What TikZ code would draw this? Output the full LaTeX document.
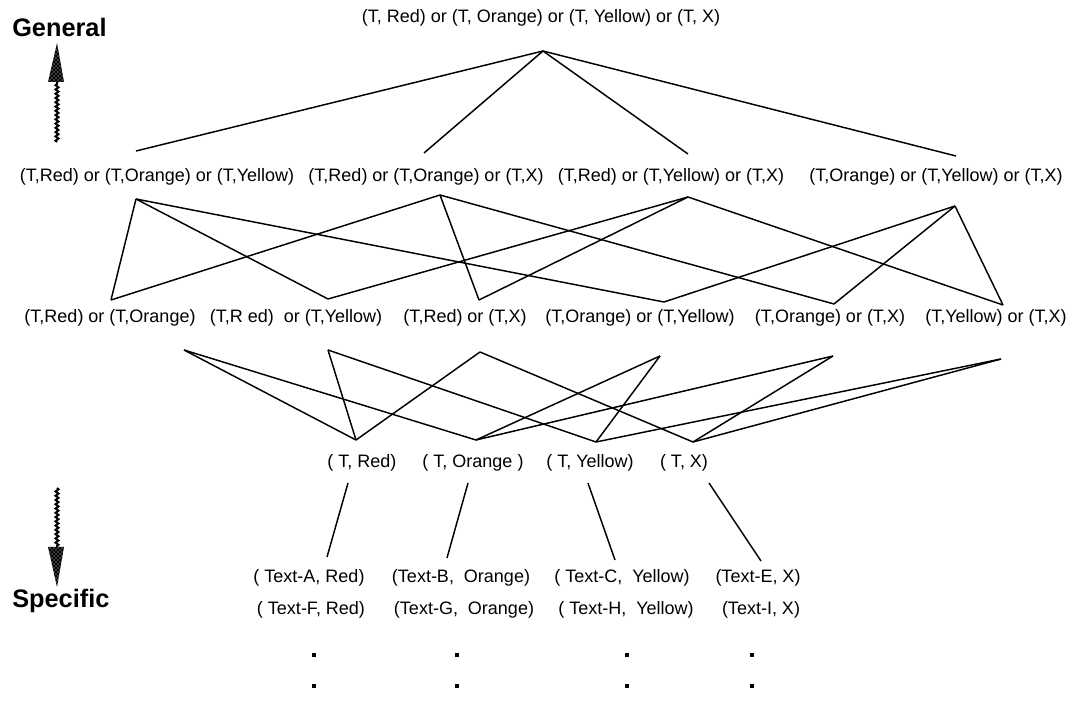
\documentclass[tikz,border=0pt]{standalone}
\usepackage{fontspec}
\setmainfont{Liberation Sans}
\usetikzlibrary{decorations.pathmorphing,patterns}

\begin{document}
\begin{tikzpicture}[x=0.75pt,y=-0.75pt,
  lbl/.style={inner sep=0pt, font=\fontsize{13.5}{15}\selectfont},
  big/.style={inner sep=0pt, anchor=west, font=\fontsize{19}{22}\selectfont\bfseries},
  link/.style={line width=1.1pt},
  shaft/.style={line width=1.5pt, decorate,
    decoration={snake, amplitude=1.1pt, segment length=3.2pt}},
  headfill/.style={fill=black},
  headdots/.style={pattern=crosshatch dots, pattern color=white},
  dot/.style={rectangle, fill=black, inner sep=0pt, minimum size=3.2pt}]

\useasboundingbox (0,0) rectangle (1076,702);

% ---- direction indicators ----
\node[big] (gen) at (12,27) {General};
\node[big] (spec) at (12,601) {Specific};

\coordinate (up-tail) at (57,142);
\coordinate (up-base) at (57,82);
\coordinate (up-tip) at (57,43);
\draw[shaft] (up-tail) -- (up-base);
\path[headfill] (48,82) -- (up-tip) -- (64,82) -- cycle;
\path[headdots] (48,82) -- (up-tip) -- (64,82) -- cycle;

\coordinate (dn-tail) at (57,488);
\coordinate (dn-base) at (57,547);
\coordinate (dn-tip) at (57,587);
\draw[shaft] (dn-tail) -- (dn-base);
\path[headfill] (48,547) -- (dn-tip) -- (64,547) -- cycle;
\path[headdots] (48,547) -- (dn-tip) -- (64,547) -- cycle;

% ---- level 4: the most general concept ----
\node[lbl] (top) at (541,18) {(T, Red) or (T, Orange) or (T, Yellow) or (T, X)};
\coordinate (top-d) at (543,51);

% ---- level 3 ----
\node[lbl] (A3) at (157,177) {(T,Red) or (T,Orange) or (T,Yellow)};
\node[lbl] (B3) at (426,177) {(T,Red) or (T,Orange) or (T,X)};
\node[lbl] (C3) at (671,177) {(T,Red) or (T,Yellow) or (T,X)};
\node[lbl] (D3) at (936,177) {(T,Orange) or (T,Yellow) or (T,X)};
\coordinate (A3-u) at (136,151); \coordinate (A3-d) at (136,199);
\coordinate (B3-u) at (424,153); \coordinate (B3-d) at (440,195);
\coordinate (C3-u) at (688,154); \coordinate (C3-d) at (688,197);
\coordinate (D3-u) at (956,156); \coordinate (D3-d) at (955,206);

% ---- level 2 ----
\node[lbl] (a2) at (110,318) {(T,Red) or (T,Orange)};
\node[lbl] (b2) at (296,318) {(T,R ed)\ \ or (T,Yellow)};
\node[lbl] (c2) at (465,318) {(T,Red) or (T,X)};
\node[lbl] (d2) at (640,318) {(T,Orange) or (T,Yellow)};
\node[lbl] (e2) at (830,318) {(T,Orange) or (T,X)};
\node[lbl] (f2) at (996,318) {(T,Yellow) or (T,X)};
\coordinate (a2-u) at (111,300);  \coordinate (a2-d) at (184,350);
\coordinate (b2-u) at (328,299);  \coordinate (b2-d) at (328,350);
\coordinate (c2-u) at (479,300);  \coordinate (c2-d) at (480,352);
\coordinate (d2-u) at (664,302);  \coordinate (d2-d) at (660,356);
\coordinate (e2-u) at (834,304);  \coordinate (e2-d) at (833,356);
\coordinate (f2-u) at (1003,305); \coordinate (f2-d) at (1001,359);

% ---- level 1 ----
\node[lbl] (R1) at (362,463) {( T, Red)};
\node[lbl] (O1) at (473,463) {( T, Orange )};
\node[lbl] (Y1) at (590,463) {( T, Yellow)};
\node[lbl] (X1) at (684,463) {( T, X)};
\coordinate (R1-u) at (356,440); \coordinate (R1-d) at (348,483);
\coordinate (O1-u) at (476,440); \coordinate (O1-d) at (468,483);
\coordinate (Y1-u) at (596,442); \coordinate (Y1-d) at (588,483);
\coordinate (X1-u) at (693,442); \coordinate (X1-d) at (709,483);

% ---- level 0: instances ----
\node[lbl] (iA) at (309,578) {( Text-A, Red)};
\node[lbl] (iB) at (461,578) {(Text-B,\ \ Orange)};
\node[lbl] (iC) at (622,578) {( Text-C,\ \ Yellow)};
\node[lbl] (iE) at (758,578) {(Text-E, X)};
\node[lbl] (iF) at (311,610) {( Text-F, Red)};
\node[lbl] (iG) at (464,610) {(Text-G,\ \ Orange)};
\node[lbl] (iH) at (626,610) {( Text-H,\ \ Yellow)};
\node[lbl] (iI) at (761,610) {(Text-I, X)};
\coordinate (iA-u) at (327,557);
\coordinate (iB-u) at (447,558);
\coordinate (iC-u) at (615,560);
\coordinate (iE-u) at (761,561);

\foreach \n/\x in {r/314, o/457, y/627, x/752} {
  \node[dot] (\n-dot1) at (\x,655) {};
  \node[dot] (\n-dot2) at (\x,686) {};
}

% ---- generalisation links ----
\foreach \u in {A3,B3,C3,D3}
  \draw[link] (top-d) -- (\u-u);

\foreach \u/\v in {A3/a2, A3/b2, A3/d2,
                   B3/a2, B3/c2, B3/e2,
                   C3/b2, C3/c2, C3/f2,
                   D3/d2, D3/e2, D3/f2}
  \draw[link] (\u-d) -- (\v-u);

\foreach \u/\v in {a2/R1, a2/O1, b2/R1, b2/Y1, c2/R1, c2/X1,
                   d2/O1, d2/Y1, e2/O1, e2/X1, f2/Y1, f2/X1}
  \draw[link] (\u-d) -- (\v-u);

\foreach \u/\v in {R1/iA, O1/iB, Y1/iC, X1/iE}
  \draw[link] (\u-d) -- (\v-u);

\end{tikzpicture}
\end{document}
